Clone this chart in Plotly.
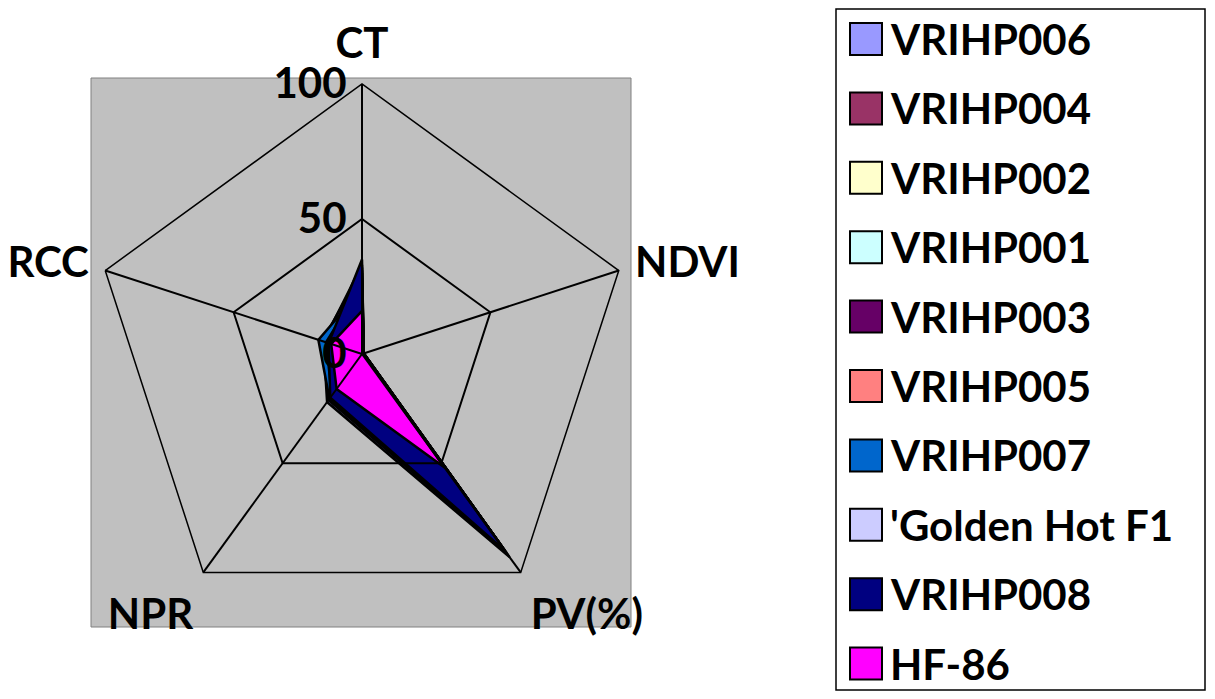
import plotly.graph_objects as go

categories = ["CT", "NDVI", "PV(%)", "NPR", "RCC"]
series_names = ["VRIHP006", "VRIHP004", "VRIHP002", "VRIHP001", "VRIHP003",
                "VRIHP005", "VRIHP007", "'Golden Hot F1", "VRIHP008", "HF-86"]
series_colors = ["#9999FF", "#993366", "#FFFFCC", "#CCFFFF", "#660066",
                 "#FF8080", "#0066CC", "#CCCCFF", "#000080", "#FF00FF"]
# values per series: CT, NDVI, PV(%), NPR, RCC
ct   = [30, 32, 28, 33, 31, 27, 24, 26, 35, 16]
ndvi = [0.7, 0.6, 0.6, 0.7, 0.6, 0.6, 0.7, 0.6, 0.7, 0.5]
pv   = [93, 91, 88, 86, 89, 85, 87, 84, 90, 52]
npr  = [22, 21, 20, 19.5, 21, 19, 20.5, 19, 20, 16]
rcc  = [15, 14.5, 14, 15, 15.5, 14, 17, 14, 13, 12]
radial_ticks = [0, 50, 100]

# page body has an 8px margin; figure sized so the page fits the window
OFF = 8
W, H = 1215 - 2 * OFF, 699 - 2 * OFF


def px(x):
    return (x - OFF) / W


def py(y):
    return 1 - (y - OFF) / H


FONT = dict(family="Lato", size=42, color="black", weight=700)

fig = go.Figure()
for i, name in enumerate(series_names):
    r = [ct[i], ndvi[i], pv[i], npr[i], rcc[i]]
    fig.add_trace(go.Scatterpolar(
        r=r + [r[0]], theta=categories + [categories[0]],
        fill="toself", fillcolor=series_colors[i], mode="lines",
        line=dict(color="black", width=2.5), name=name, showlegend=False,
        subplot="polar"))

# overlay subplot for grid lines and labels drawn above the filled areas
fig.add_trace(go.Scatterpolar(
    r=[0] * len(categories), theta=categories, mode="lines",
    line=dict(width=0, color="rgba(0,0,0,0)"), hoverinfo="skip",
    showlegend=False, subplot="polar2"))

cx, cy, R = 362, 354, 270
dom = dict(x=[px(cx - R), px(cx + R)], y=[py(cy + R), py(cy - R)])

common_ang = dict(rotation=90, direction="clockwise", categoryorder="array",
                  categoryarray=categories, type="category")

fig.update_layout(
    width=W, height=H, margin=dict(l=0, r=0, t=0, b=0),
    paper_bgcolor="white", plot_bgcolor="white",
    polar=dict(
        domain=dom, bgcolor="rgba(0,0,0,0)", gridshape="linear",
        radialaxis=dict(range=[0, 100], showgrid=False, showline=False,
                        showticklabels=False, ticks=""),
        angularaxis=dict(showgrid=False, showline=False, showticklabels=False,
                         ticks="", **common_ang),
    ),
    polar2=dict(
        domain=dom, bgcolor="rgba(0,0,0,0)", gridshape="linear",
        radialaxis=dict(range=[0, 100], tickvals=radial_ticks, angle=90,
                        side="counterclockwise", showgrid=True, gridcolor="black",
                        gridwidth=1.5, showline=True, linecolor="black", linewidth=1.5,
                        ticks="", tickfont=FONT, tickangle=90),
        angularaxis=dict(showgrid=True, gridcolor="black", gridwidth=1.5,
                         showline=True, linecolor="black", linewidth=1.5,
                         ticks="outside", ticklen=8, tickcolor="rgba(0,0,0,0)",
                         tickfont=FONT, **common_ang),
    ),
)

shapes = [
    dict(type="rect", xref="paper", yref="paper", layer="below",
         x0=px(91), x1=px(631), y0=py(627), y1=py(78),
         fillcolor="#C0C0C0", line=dict(color="#808080", width=1)),
    dict(type="rect", xref="paper", yref="paper",
         x0=px(836), x1=px(1205), y0=py(690), y1=py(9),
         fillcolor="rgba(0,0,0,0)", line=dict(color="black", width=1.5)),
]
annotations = []
for i, name in enumerate(series_names):
    yc = 39 + 69.4 * i
    shapes.append(dict(type="rect", xref="paper", yref="paper",
                       x0=px(850), x1=px(882), y0=py(yc + 16), y1=py(yc - 16),
                       fillcolor=series_colors[i], line=dict(color="black", width=2)))
    annotations.append(dict(xref="paper", yref="paper", x=px(889), y=py(yc),
                            xanchor="left", yanchor="middle", text=name,
                            height=36, borderpad=0,
                            showarrow=False, font=FONT))
fig.update_layout(shapes=shapes, annotations=annotations)

fig.write_html("out.html")
